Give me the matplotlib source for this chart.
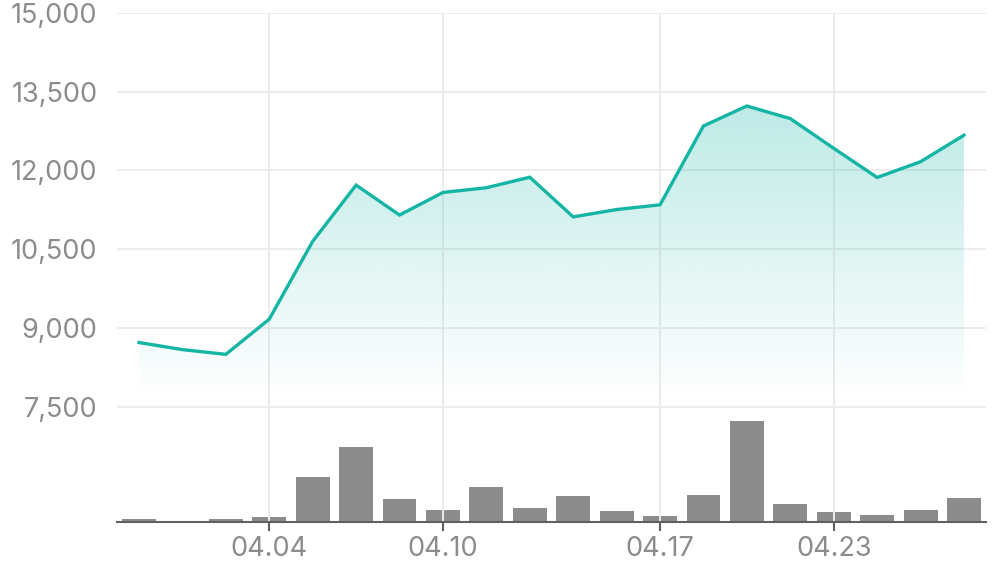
import matplotlib
matplotlib.use("Agg")
import matplotlib.pyplot as plt
import numpy as np
from matplotlib.patches import Polygon
from matplotlib.ticker import FuncFormatter

# ---- data ----
dates = ["04.01", "04.02", "04.03", "04.04", "04.07", "04.08", "04.09", "04.10",
         "04.11", "04.14", "04.15", "04.16", "04.17", "04.18", "04.21", "04.22",
         "04.23", "04.24", "04.25", "04.28"]
price = [8725, 8590, 8500, 9170, 10650, 11720, 11150, 11580, 11670, 11870,
         11115, 11255, 11345, 12845, 13225, 12985, 12420, 11865, 12165, 12670]
volume = [2.2, 0, 2.2, 4.8, 44.8, 74.8, 22.8, 11.8, 34.8, 13.8,
          25.8, 10.8, 5.8, 26.8, 100.8, 17.8, 9.8, 6.8, 11.8, 23.8]
tick_labels = ["04.04", "04.10", "04.17", "04.23"]
y_ticks = [7500, 9000, 10500, 12000, 13500, 15000]

# ---- style ----
plt.rcParams['font.family'] = ['Inter', 'DejaVu Sans']
line_color = "#15b5a5"
grid_color = "#ececec"
label_color = "#8c8c8c"
bar_color = "#8c8c8c"
axis_color = "#606060"

fig = plt.figure(figsize=(9.96, 5.67), dpi=100)
ax = fig.add_axes([117 / 996, 1 - 521.7 / 567, (986 - 117) / 996, (521.7 - 12.7) / 567])
axv = ax.twinx()
ax.set_zorder(axv.get_zorder() + 1)
ax.patch.set_visible(False)

x = np.arange(len(dates))
xlim = (-0.507, len(dates) - 0.493)

# volume bars
axv.bar(x, volume, width=0.78, color=bar_color, zorder=2)
axv.set_ylim(0, max(volume) * 509.0 / 101.0)
axv.set_yticks([])
for s in axv.spines.values():
    s.set_visible(False)

# gradient area
fill_base = 7650
top = max(price)
grad = np.zeros((256, 1, 4))
rgb = matplotlib.colors.to_rgb(line_color)
grad[..., 0], grad[..., 1], grad[..., 2] = rgb
grad[:, 0, 3] = np.linspace(0.0, 0.28, 256)
im = ax.imshow(grad, aspect='auto', origin='lower',
               extent=[x[0], x[-1], fill_base, top], zorder=1, interpolation='bilinear')
poly_pts = [(x[0], fill_base)] + list(zip(x, price)) + [(x[-1], fill_base)]
poly = Polygon(poly_pts, closed=True, facecolor='none', edgecolor='none')
ax.add_patch(poly)
im.set_clip_path(poly)

ax.plot(x, price, color=line_color, lw=2.4, zorder=3, solid_joinstyle='miter')

ax.set_xlim(*xlim)
axv.set_xlim(*xlim)
ax.set_ylim(5316, 15000)

# ticks
ax.set_yticks(y_ticks)
ax.yaxis.set_major_formatter(FuncFormatter(lambda v, p: f"{int(v):,}"))
ax.tick_params(axis='y', length=0, pad=14, labelsize=19.5, labelcolor=label_color)
tick_pos = [dates.index(t) for t in tick_labels]
ax.set_xticks(tick_pos)
ax.set_xticklabels(tick_labels)
ax.tick_params(axis='x', length=6.5, width=1.5, color=axis_color, pad=4,
               labelsize=19.5, labelcolor=label_color)

# grid
ax.grid(True, axis='both', color=grid_color, lw=1.4, zorder=0)
ax.set_axisbelow(True)
for s in ['top', 'left', 'right']:
    ax.spines[s].set_visible(False)
ax.spines['bottom'].set_color(axis_color)
ax.spines['bottom'].set_linewidth(1.5)
ax.spines['bottom'].set_zorder(5)

fig.savefig("out.png", dpi=100)
